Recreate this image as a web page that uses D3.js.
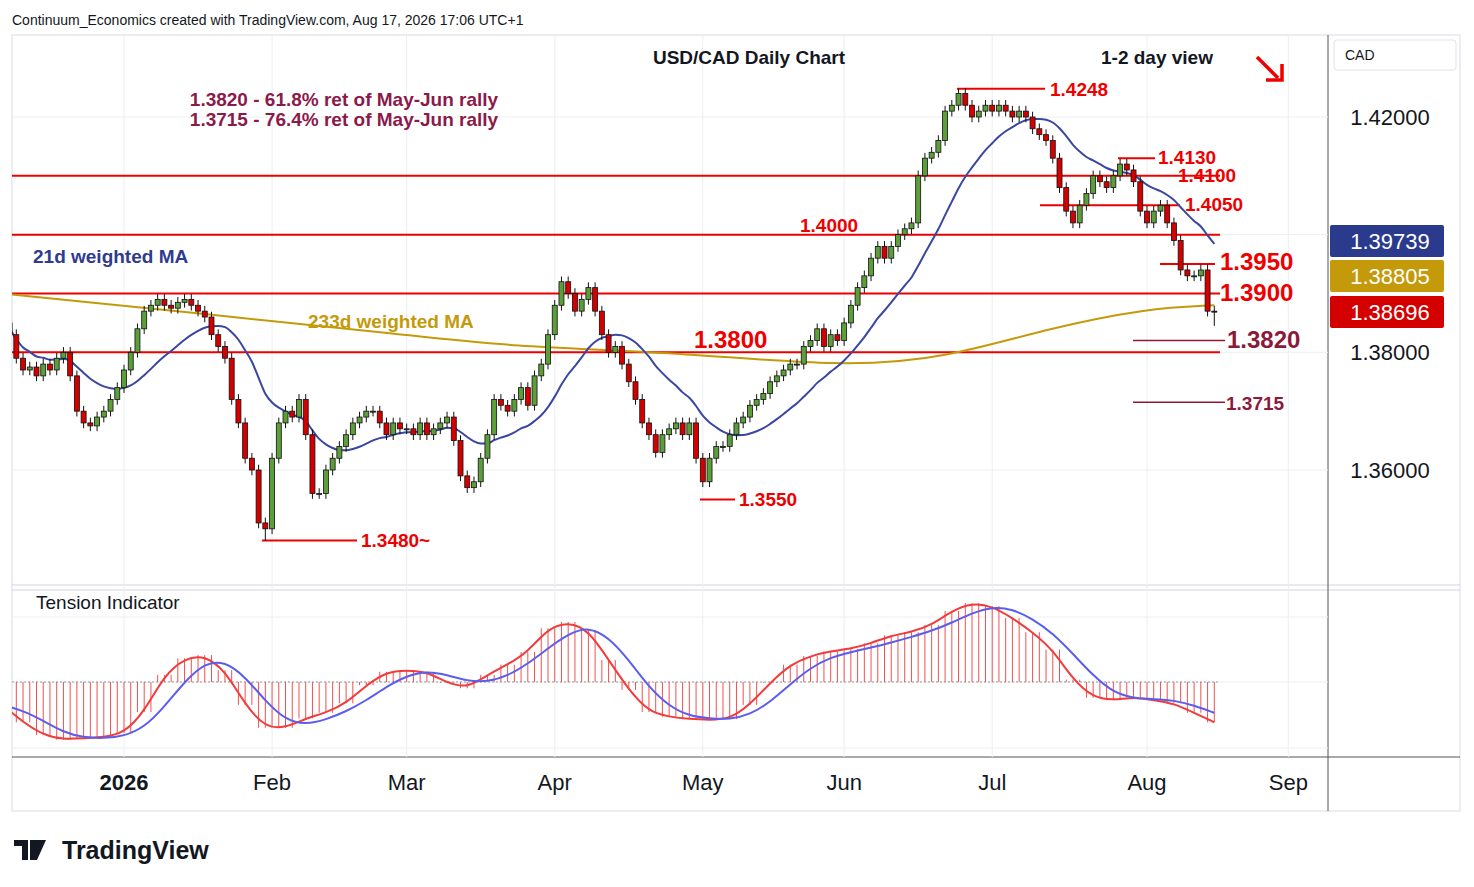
<!DOCTYPE html>
<html><head><meta charset="utf-8">
<script src="https://cdn.jsdelivr.net/npm/d3@7"></script>
<style>body{margin:0;background:#fff;font-family:"Liberation Sans",Arial,sans-serif}</style>
</head><body><svg id="c" width="1474" height="887"></svg>
<script>
const monthLabels=["2026","Feb","Mar","Apr","May","Jun","Jul","Aug","Sep"];
const monthStartIdx=[18,40,60,82,104,125,147,170,191];
const closes=[
1.3850,1.3830,1.3790,1.3770,1.3775,1.3760,1.3780,1.3770,1.3790,1.3800,1.3760,1.3700,1.3680,1.3675,1.3690,1.3700,1.3720,1.3740,
1.3770,1.3800,1.3840,1.3870,1.3880,1.3890,1.3880,1.3875,1.3885,1.3890,1.3880,1.3870,1.3860,1.3830,1.3810,1.3790,1.3720,1.3680,1.3620,1.3600,1.3510,1.3500,
1.3620,1.3680,1.3700,1.3690,1.3720,1.3660,1.3560,1.3560,1.3600,1.3620,1.3640,1.3660,1.3680,1.3690,1.3700,1.3700,1.3680,1.3660,1.3680,1.3670,
1.3670,1.3660,1.3680,1.3660,1.3670,1.3680,1.3690,1.3650,1.3590,1.3570,1.3580,1.3620,1.3660,1.3720,1.3710,1.3700,1.3720,1.3740,1.3710,1.3760,1.3780,1.3830,
1.3880,1.3920,1.3900,1.3870,1.3890,1.3910,1.3870,1.3830,1.3800,1.3810,1.3780,1.3750,1.3720,1.3680,1.3660,1.3630,1.3660,1.3670,1.3680,1.3660,1.3680,1.3620,
1.3580,1.3620,1.3640,1.3640,1.3660,1.3680,1.3690,1.3710,1.3720,1.3730,1.3750,1.3760,1.3770,1.3780,1.3780,1.3810,1.3820,1.3840,1.3810,1.3830,1.3820,
1.3850,1.3880,1.3910,1.3930,1.3960,1.3980,1.3960,1.3980,1.4000,1.4010,1.4020,1.4100,1.4130,1.4140,1.4160,1.4210,1.4220,1.4240,1.4220,1.4200,1.4210,1.4220,
1.4210,1.4220,1.4210,1.4200,1.4210,1.4200,1.4180,1.4170,1.4160,1.4130,1.4080,1.4040,1.4020,1.4050,1.4070,1.4100,1.4090,1.4080,1.4100,1.4120,1.4110,1.4090,1.4040,
1.4020,1.4040,1.4050,1.4020,1.3990,1.3940,1.3930,1.3930,1.3940,1.3870,1.38696];
const openFirst=1.3870;
const ma233Idx=[0,30,60,75,100,125,140,155,170,180];
const ma233Val=[1.3900,1.3865,1.3830,1.3810,1.3800,1.3775,1.3790,1.3840,1.3875,1.3880];
const tension=[-0.29,-0.51,-0.67,-0.73,-0.71,-0.70,-0.65,-0.38,0.09,0.30,0.34,0.15,-0.29,-0.58,-0.58,-0.46,-0.39,-0.27,-0.04,0.13,0.15,0.13,-0.01,-0.08,0.09,0.22,0.38,0.68,0.76,0.66,0.28,-0.10,-0.38,-0.44,-0.47,-0.48,-0.47,-0.29,-0.01,0.22,0.33,0.39,0.42,0.49,0.59,0.63,0.72,0.90,1.00,0.96,0.81,0.63,0.41,0.03,-0.20,-0.23,-0.19,-0.23,-0.27,-0.39,-0.51];
const priceTicks=[1.36,1.38,1.40,1.42];
const redLevels=[{v:1.41,x0:12,x1:1220},{v:1.40,x0:12,x1:1220},{v:1.39,x0:12,x1:1220},{v:1.38,x0:12,x1:1220}];

const svg=d3.select("#c");
svg.append("defs").append("clipPath").attr("id","clp").append("rect").attr("x",12).attr("y",35).attr("width",1316).attr("height",722);
const x=d3.scaleLinear().domain([18,170]).range([124,1147]);
const y=d3.scaleLinear().domain([1.36,1.42]).range([470,117]);
const yt=d3.scaleLinear().domain([0,1]).range([682,603]);
const n=closes.length;
const bars=closes.map((c,i)=>{const o=i?closes[i-1]:openFirst;return{i,o,c,h:Math.max(o,c)+0.0009,l:Math.min(o,c)-0.0009};});
bars[39].l=1.3480; bars[142].h=1.4248; bars[180].l=1.3845;

const g=svg.append("g");
g.append("rect").attr("x",12).attr("y",35).attr("width",1448).attr("height",776).attr("fill","none").attr("stroke","#d9dce3");
[585,590].forEach(v=>g.append("line").attr("x1",12).attr("x2",1460).attr("y1",v).attr("y2",v).attr("stroke","#d1d4dc"));
g.append("line").attr("x1",1328).attr("x2",1328).attr("y1",35).attr("y2",811).attr("stroke","#555");
g.append("line").attr("x1",12).attr("x2",1460).attr("y1",757).attr("y2",757).attr("stroke","#555");
monthStartIdx.forEach(i=>g.append("line").attr("x1",x(i)).attr("x2",x(i)).attr("y1",35).attr("y2",757).attr("stroke","#eceef2"));
priceTicks.forEach(v=>g.append("line").attr("x1",12).attr("x2",1328).attr("y1",y(v)).attr("y2",y(v)).attr("stroke","#eceef2"));
[617,682,748].forEach(v=>g.append("line").attr("x1",12).attr("x2",1328).attr("y1",v).attr("y2",v).attr("stroke","#eceef2"));
g.append("line").attr("x1",12).attr("x2",1220).attr("y1",682).attr("y2",682).attr("stroke","#999").attr("stroke-dasharray","2,2");

monthLabels.forEach((m,k)=>svg.append("text").attr("x",x(monthStartIdx[k])).attr("y",790).attr("text-anchor","middle").attr("font-size",22).attr("font-weight",k==0?"bold":"normal").attr("fill","#131722").text(m));
priceTicks.filter(v=>v!==1.40).forEach(v=>svg.append("text").attr("x",1390).attr("y",y(v)+8).attr("text-anchor","middle").attr("font-size",22).attr("fill","#131722").text(v.toFixed(5)));

const pg=svg.append("g").attr("clip-path","url(#clp)");
redLevels.forEach(l=>pg.append("line").attr("x1",l.x0).attr("x2",l.x1).attr("y1",y(l.v)).attr("y2",y(l.v)).attr("stroke","#e00").attr("stroke-width",2));
const segs=[[1.4248,957,1045,"#e00"],[1.4130,1118,1155,"#e00"],[1.4050,1040,1180,"#e00"],[1.3950,1160,1215,"#e00"],[1.3820,1133,1225,"#8b1a3a"],[1.3715,1133,1225,"#8b1a3a"],[1.3550,700,735,"#e00"],[1.3480,262,357,"#e00"]];
segs.forEach(s=>pg.append("line").attr("x1",s[1]).attr("x2",s[2]).attr("y1",y(s[0])).attr("y2",y(s[0])).attr("stroke",s[3]).attr("stroke-width",s[3]=="#e00"?2:1.5));

const ma233=ma233Idx.map((i,k)=>[i,ma233Val[k]]);
const wma=closes.map((c,i)=>{let s=0,w=0;for(let j=0;j<21&&i-j>=0;j++){const ww=21-j;s+=closes[i-j]*ww;w+=ww;}return s/w;});
pg.append("path").attr("d",d3.line().x(d=>x(d[0])).y(d=>y(d[1])).curve(d3.curveBasis)(ma233)).attr("fill","none").attr("stroke","#c49a0a").attr("stroke-width",2);
pg.append("path").attr("d",d3.line().x((d,i)=>x(i)).y(d=>y(d)).curve(d3.curveMonotoneX)(wma)).attr("fill","none").attr("stroke","#3a46a0").attr("stroke-width",2);

const cg=pg.append("g");
bars.forEach(b=>{
 const cx=x(b.i);
 cg.append("line").attr("x1",cx).attr("x2",cx).attr("y1",y(b.h)).attr("y2",y(b.l)).attr("stroke","#111");
 const top=y(Math.max(b.o,b.c)),bot=y(Math.min(b.o,b.c));
 cg.append("rect").attr("x",cx-2.5).attr("y",top).attr("width",5).attr("height",Math.max(1,bot-top)).attr("fill",b.c>=b.o?"#5c9e3a":"#d40000").attr("stroke","#111").attr("stroke-width",0.8);
});

const tg=pg.append("g");
d3.range(n).forEach(i=>{const v=tension[Math.min(tension.length-1,Math.round(i/3))];tg.append("line").attr("x1",x(i)).attr("x2",x(i)).attr("y1",yt(0)).attr("y2",yt(v)).attr("stroke","#f05050").attr("stroke-width",1);});
const blue=tension.map((v,k)=>(tension[Math.max(0,k-1)]+v+tension[Math.max(0,k-2)])/3);
pg.append("path").attr("d",d3.line().x((d,k)=>x(k*3)).y(d=>yt(d)).curve(d3.curveBasis)(tension)).attr("fill","none").attr("stroke","#f23b3b").attr("stroke-width",2);
pg.append("path").attr("d",d3.line().x((d,k)=>x(k*3)).y(d=>yt(d)).curve(d3.curveBasis)(blue)).attr("fill","none").attr("stroke","#5a5ef0").attr("stroke-width",2);
svg.append("text").attr("x",36).attr("y",609).attr("font-size",19).attr("fill","#131722").text("Tension Indicator");

const T=(t,xx,yy,sz,col,opt={})=>svg.append("text").attr("x",xx).attr("y",yy).attr("font-size",sz).attr("fill",col).attr("font-weight",opt.b?"bold":"normal").attr("text-anchor",opt.a||"start").text(t);
T("Continuum_Economics created with TradingView.com, Aug 17, 2026 17:06 UTC+1",12,25,14,"#131722");
T("USD/CAD Daily Chart",749,64,19,"#131722",{b:1,a:"middle"});
T("1-2 day view",1157,64,19,"#131722",{b:1,a:"middle"});
T("1.3820 - 61.8% ret of May-Jun rally",344,106,19,"#8b1a4a",{b:1,a:"middle"});
T("1.3715 - 76.4% ret of May-Jun rally",344,126,19,"#8b1a4a",{b:1,a:"middle"});
T("21d weighted MA",33,263,19,"#2f3b8f",{b:1});
T("233d weighted MA",308,328,19,"#c49a0a",{b:1});
T("1.4248",1050,96,19,"#e00",{b:1});
T("1.4130",1158,164,19,"#e00",{b:1});
T("1.4100",1178,182,19,"#e00",{b:1});
T("1.4050",1185,211,19,"#e00",{b:1});
T("1.4000",800,232,19,"#e00",{b:1});
T("1.3950",1220,270,24,"#e00",{b:1});
T("1.3900",1220,301,24,"#e00",{b:1});
T("1.3800",694,348,24,"#e00",{b:1});
T("1.3820",1227,348,24,"#8b1a3a",{b:1});
T("1.3715",1226,410,19,"#8b1a3a",{b:1});
T("1.3550",739,506,19,"#e00",{b:1});
T("1.3480~",361,547,19,"#e00",{b:1});
svg.append("line").attr("x1",1257).attr("y1",57).attr("x2",1278).attr("y2",78).attr("stroke","#e00").attr("stroke-width",3.5);
svg.append("path").attr("d","M1266,80 L1282,80 L1282,64").attr("fill","none").attr("stroke","#e00").attr("stroke-width",3.5);
[[1.39739,"#2a3a8c",241],[1.38805,"#c49a0a",276],[1.38696,"#d40000",312]].forEach(p=>{
 svg.append("rect").attr("x",1330).attr("y",p[2]-16).attr("width",114).attr("height",32).attr("fill",p[1]).attr("rx",2);
 svg.append("text").attr("x",1390).attr("y",p[2]+8).attr("text-anchor","middle").attr("font-size",22).attr("fill","#fff").text(p[0].toFixed(5));
});
svg.append("rect").attr("x",1334).attr("y",40).attr("width",122).attr("height",30).attr("fill","#fff").attr("stroke","#e0e3eb").attr("rx",3);
T("CAD",1345,60,14,"#131722");
T("TradingView",62,859,25,"#131722",{b:1});
svg.append("path").attr("d","M14,840 h14 v20 h-6 v-14 h-8z M30,840 h6 l10,0 l-9,20 h-7z").attr("fill","#131722");
</script></body></html>
